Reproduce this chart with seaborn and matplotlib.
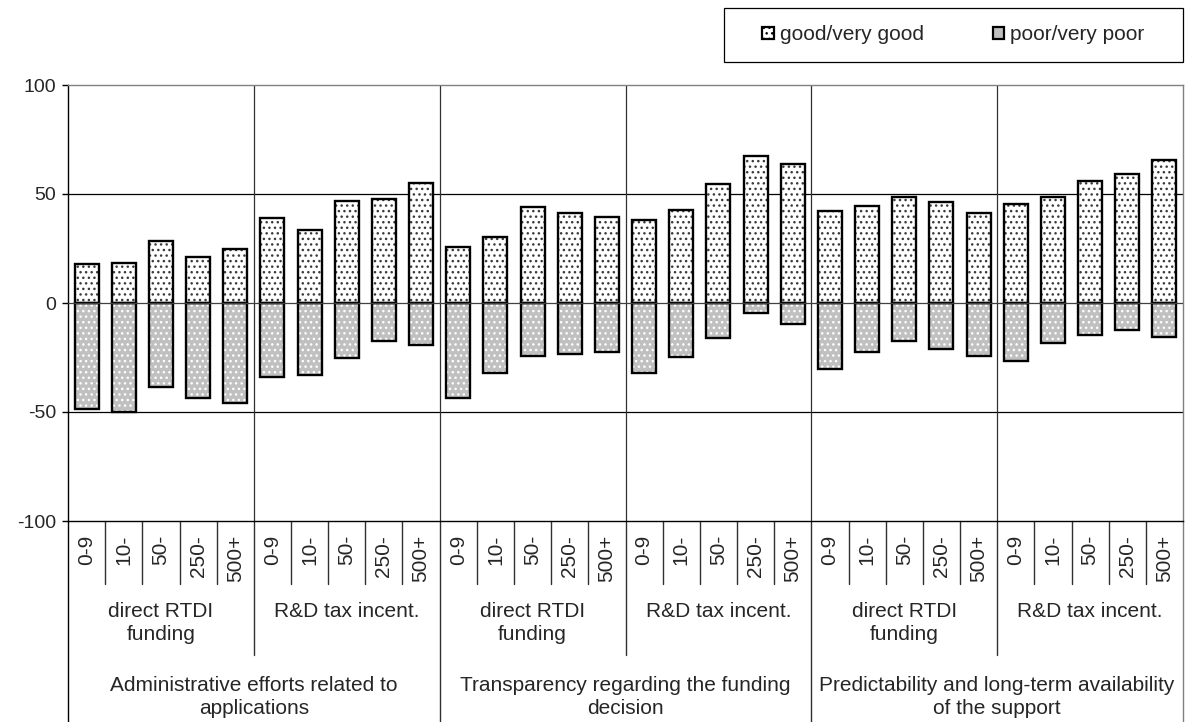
import numpy as np
import pandas as pd
import matplotlib
matplotlib.use("Agg")
import matplotlib.pyplot as plt
import matplotlib.transforms as mtransforms
from matplotlib.patches import Patch, Rectangle
import seaborn as sns

# --- data ---
sizes = ["0-9", "10-", "50-", "250-", "500+"]
instruments = ["direct RTDI\nfunding", "R&D tax incent."]
aspects = [
    "Administrative efforts related to\napplications",
    "Transparency regarding the funding\ndecision",
    "Predictability and long-term availability\nof the support",
]
good = [18.0, 18.3, 28.4, 21.3, 24.7, 38.9, 33.4, 46.6, 47.6, 55.0,
        25.9, 30.2, 43.9, 41.2, 39.5, 38.0, 42.8, 54.6, 67.4, 63.9,
        42.4, 44.5, 48.6, 46.3, 41.5, 45.6, 48.8, 56.1, 59.0, 65.7]
poor = [-48.5, -50.0, -38.6, -43.8, -45.8, -34.0, -32.8, -25.2, -17.4, -19.2,
        -43.8, -32.3, -24.4, -23.2, -22.3, -32.0, -24.7, -15.9, -4.6, -9.6,
        -30.2, -22.4, -17.6, -21.0, -24.4, -26.7, -18.3, -14.5, -12.2, -15.7]

n = len(good)
df = pd.DataFrame({"pos": np.arange(n), "good": good, "poor": poor})

sns.set_theme(style="white")
plt.rcParams["font.family"] = ["Liberation Sans", "DejaVu Sans"]
plt.rcParams["hatch.linewidth"] = 1.0
FS_TICK = 14
FS = 15

W, H = 1187, 722
fig = plt.figure(figsize=(W / 100, H / 100), dpi=100)
ax_left, ax_right, ax_top, ax_bot = 68, 1183, 85, 521
ax = fig.add_axes([ax_left / W, 1 - ax_bot / H, (ax_right - ax_left) / W, (ax_bot - ax_top) / H])

bw = 0.65
# hatched fills (hatch colour follows edgecolor)
sns.barplot(data=df, x="pos", y="good", color="white", edgecolor="#3a3a3a",
            linewidth=0, hatch="...", width=bw, ax=ax, zorder=3)
sns.barplot(data=df, x="pos", y="poor", color="#c0c0c0", edgecolor="white",
            linewidth=0, hatch="...", width=bw, ax=ax, zorder=3)
# black outlines
sns.barplot(data=df, x="pos", y="good", color="black", fill=False,
            linewidth=1.7, width=bw, ax=ax, zorder=4)
sns.barplot(data=df, x="pos", y="poor", color="black", fill=False,
            linewidth=1.7, width=bw, ax=ax, zorder=4)

ax.set_xlim(-0.5, n - 0.5)
ax.set_ylim(-100, 100)
ax.set_yticks([-100, -50, 0, 50, 100])
ax.set_yticklabels(["-100", "-50", "0", "50", "100"], fontsize=FS_TICK)
ax.tick_params(axis="y", direction="out", length=4.5, width=1, color="black", pad=4, left=True)
ax.set_xticks([])
ax.set_xlabel("")
ax.set_ylabel("")

for y in [-50, 50]:
    ax.axhline(y, color="black", lw=0.9, zorder=1)
ax.axhline(0, color="#404040", lw=0.9, zorder=5)
for b in np.arange(4.5, n - 1, 5):
    ax.axvline(b, color="#303030", lw=0.9, zorder=1)

for side in ["top", "right"]:
    ax.spines[side].set_color("#808080")
    ax.spines[side].set_linewidth(1.0)
ax.spines["left"].set_color("black")
ax.spines["bottom"].set_color("black")
ax.spines["left"].set_linewidth(1.0)
ax.spines["bottom"].set_linewidth(1.0)

# --- hierarchical category axis below the plot ---
tr = mtransforms.blended_transform_factory(ax.transData, fig.transFigure)
fy = lambda px: 1 - px / H

for i in range(n):
    ax.text(i, fy(535), sizes[i % len(sizes)], rotation=90, ha="center", va="top",
            fontsize=FS, transform=tr)
for k in range(n // 5):
    ax.text(k * 5 + 2, fy(602), instruments[k % 2], ha="center", va="top",
            fontsize=FS, linespacing=1.3, transform=tr)
for k in range(n // 10):
    ax.text(k * 10 + 4.5, fy(676), aspects[k], ha="center", va="top",
            fontsize=FS, linespacing=1.3, transform=tr)

for b in np.arange(-0.5, n, 1.0):
    j = int(b + 0.5)
    if j % 10 == 0:
        end = H
        col = "black" if j == 0 else ("#808080" if j == n else "#303030")
    elif j % 5 == 0:
        end = 655
        col = "#303030"
    else:
        end = 584
        col = "#303030"
    ax.plot([b, b], [fy(ax_bot), fy(end)], color=col, lw=1.0, transform=tr, clip_on=False)

# --- legend ---
handles = [
    Patch(facecolor="white", edgecolor="black", hatch="...", linewidth=1.6, label="good/very good"),
    Patch(facecolor="#c0c0c0", edgecolor="black", linewidth=1.6, label="poor/very poor"),
]
box_l, box_r, box_t, box_b = 724, 1183, 8, 62
fig.patches.append(Rectangle((box_l / W, fy(box_b)), (box_r - box_l) / W, (box_b - box_t) / H,
                             transform=fig.transFigure, facecolor="white",
                             edgecolor="black", linewidth=0.9, zorder=1))
leg = fig.legend(handles=handles, loc="center", ncol=2,
                 bbox_to_anchor=((box_l + box_r) / 2 / W, fy((box_t + box_b) / 2)),
                 frameon=False, fontsize=FS, handlelength=0.55, handleheight=0.55,
                 handletextpad=0.3, columnspacing=3.3, borderpad=0, borderaxespad=0)
leg.set_zorder(2)

fig.savefig("out.png", dpi=100, facecolor="white")
